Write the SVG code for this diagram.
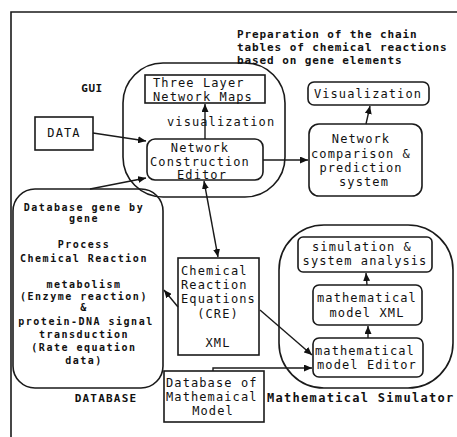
<svg xmlns="http://www.w3.org/2000/svg" width="457" height="437" viewBox="0 0 457 437">
<style>
.box{fill:none;stroke:#1a1a1a;stroke-width:1.6}
.ln{fill:none;stroke:#1a1a1a;stroke-width:1.4}
.t{font-family:"DejaVu Sans Mono","Liberation Mono",monospace;font-size:12px;letter-spacing:1.1px;fill:#111}
.m{text-anchor:middle}
.b{font-family:"DejaVu Sans Mono","Liberation Mono",monospace;font-size:11px;font-weight:bold;letter-spacing:0.9px;fill:#111}
.d{font-family:"DejaVu Sans Mono","Liberation Mono",monospace;font-size:10px;font-weight:bold;letter-spacing:1.5px;fill:#111;text-anchor:middle}
.lb{font-family:"DejaVu Sans Mono","Liberation Mono",monospace;font-weight:bold;fill:#111}
</style>
<defs>
<marker id="ah" markerUnits="userSpaceOnUse" markerWidth="9" markerHeight="7" refX="8" refY="3.5" orient="auto-start-reverse">
<path d="M0,0 L8,3.5 L0,7 z" fill="#111"/>
</marker>
</defs>
<rect width="457" height="437" fill="#fff"/>
<path class="box" d="M11,437 V12 H457"/>

<g id="gui">
<rect class="box" x="123" y="63" width="162" height="134" rx="40"/>
<text class="lb" x="92" y="92" font-size="11" letter-spacing="0.5" text-anchor="middle">GUI</text>
<text class="t" x="167" y="126">visualization</text>
</g>

<g id="three-layer">
<rect class="box" x="145" y="75" width="120" height="28"/>
<text class="t" x="153" y="87">Three Layer</text>
<text class="t" x="153" y="101">Network Maps</text>
</g>

<g id="nce">
<rect class="box" x="147" y="139" width="116" height="41" rx="8"/>
<text class="t m" x="200" y="152">Network</text>
<text class="t m" x="200" y="166">Construction</text>
<text class="t m" x="202" y="179">Editor</text>
</g>

<g id="data">
<rect class="box" x="35" y="117" width="58" height="33"/>
<text class="t m" x="64" y="137">DATA</text>
</g>

<g id="prep">
<text class="b" x="237" y="38">Preparation of the chain</text>
<text class="b" x="237" y="51">tables of chemical reactions</text>
<text class="b" x="237" y="64">based on gene elements</text>
</g>

<g id="visualization">
<rect class="box" x="308" y="82" width="121" height="23" rx="6"/>
<text class="t m" x="368" y="98">Visualization</text>
</g>

<g id="netcomp">
<rect class="box" x="309" y="124" width="113" height="72" rx="10"/>
<text class="t m" x="361" y="143">Network</text>
<text class="t m" x="361" y="158">comparison &amp;</text>
<text class="t m" x="361" y="172">prediction</text>
<text class="t m" x="364" y="186">system</text>
</g>

<g id="database">
<rect class="box" x="13" y="189" width="150" height="199" rx="22"/>
<text class="d" x="84" y="211">Database gene by</text>
<text class="d" x="84" y="222">gene</text>
<text class="d" x="84" y="248">Process</text>
<text class="d" x="84" y="262">Chemical Reaction</text>
<text class="d" x="84" y="288">metabolism</text>
<text class="d" x="84" y="300">(Enzyme reaction)</text>
<text class="d" x="84" y="311">&amp;</text>
<text class="d" x="86" y="325">protein-DNA signal</text>
<text class="d" x="84" y="338">transduction</text>
<text class="d" x="84" y="351">(Rate equation</text>
<text class="d" x="84" y="364">data)</text>
<text class="lb" x="106" y="402" font-size="11" letter-spacing="1.2" text-anchor="middle">DATABASE</text>
</g>

<g id="cre">
<rect class="box" x="178" y="258" width="81" height="97"/>
<text class="t" x="181" y="275">Chemical</text>
<text class="t" x="181" y="289">Reaction</text>
<text class="t" x="181" y="303">Equations</text>
<text class="t m" x="218" y="318">(CRE)</text>
<text class="t m" x="218" y="347">XML</text>
</g>

<g id="dbmath">
<rect class="box" x="164" y="371" width="100" height="51"/>
<text class="t" x="166" y="387">Database of</text>
<text class="t" x="166" y="401">Mathemaical</text>
<text class="t m" x="213" y="415">Model</text>
</g>

<g id="simulator">
<rect class="box" x="279" y="225" width="174" height="163" rx="45"/>
<text class="lb" x="267" y="402" font-size="12" letter-spacing="1.3">Mathematical Simulator</text>
</g>

<g id="simanalysis">
<rect class="box" x="298" y="237" width="134" height="35" rx="5"/>
<text class="t m" x="362" y="251">simulation &amp;</text>
<text class="t m" x="365" y="265">system analysis</text>
</g>

<g id="mmxml">
<rect class="box" x="313" y="285" width="109" height="40" rx="6"/>
<text class="t m" x="367" y="302">mathematical</text>
<text class="t m" x="367" y="317">model XML</text>
</g>

<g id="mmeditor">
<rect class="box" x="313" y="338" width="110" height="39" rx="6"/>
<text class="t" x="315" y="355">mathematical</text>
<text class="t" x="317" y="369">model Editor</text>
</g>

<g id="connectors">
<line class="ln" x1="205" y1="139" x2="205" y2="104" marker-end="url(#ah)"/>
<line class="ln" x1="93" y1="133" x2="146" y2="141" marker-end="url(#ah)"/>
<line class="ln" x1="90" y1="189" x2="146" y2="178" marker-end="url(#ah)"/>
<line class="ln" x1="263" y1="160" x2="308" y2="160" marker-end="url(#ah)"/>
<line class="ln" x1="366" y1="124" x2="370" y2="106" marker-end="url(#ah)"/>
<line class="ln" x1="204" y1="181" x2="218" y2="257" marker-start="url(#ah)" marker-end="url(#ah)"/>
<line class="ln" x1="178" y1="307" x2="164" y2="290" marker-end="url(#ah)"/>
<line class="ln" x1="260" y1="310" x2="312" y2="355" marker-end="url(#ah)"/>
<polyline class="ln" points="213,371 213,368 312,368" marker-end="url(#ah)"/>
<line class="ln" x1="367" y1="285" x2="366" y2="273" marker-end="url(#ah)"/>
<line class="ln" x1="368" y1="338" x2="368" y2="326" marker-end="url(#ah)"/>
</g>
</svg>
